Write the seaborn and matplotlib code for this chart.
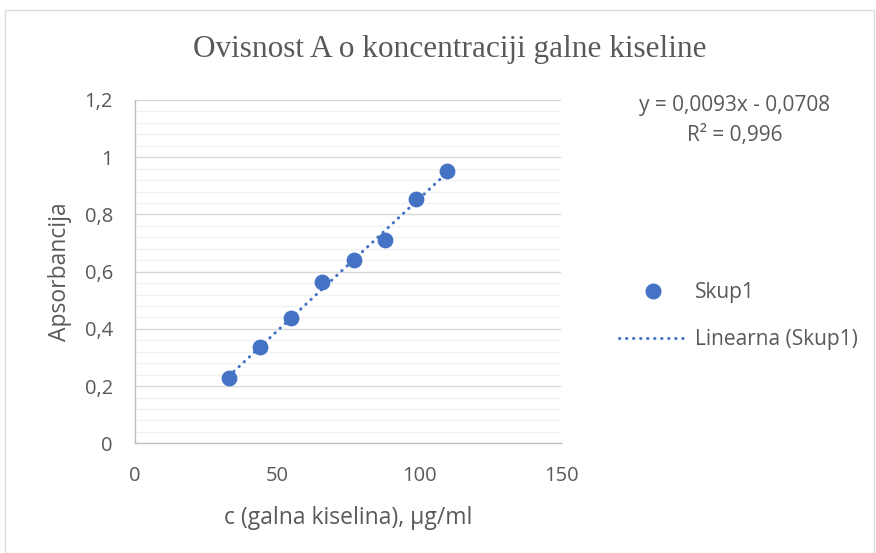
import matplotlib
matplotlib.use("Agg")
import matplotlib.pyplot as plt
from matplotlib.lines import Line2D
from matplotlib.patches import Rectangle
from matplotlib.ticker import MultipleLocator, FuncFormatter
import seaborn as sns
import pandas as pd

# data
concentration = [33, 44, 55, 66, 77, 88, 99, 110]
absorbance = [0.229, 0.338, 0.437, 0.563, 0.641, 0.711, 0.854, 0.953]
series_name = "Skup1"
trend_name = "Linearna (Skup1)"
equation = "y = 0,0093x - 0,0708"
r_squared = "R² = 0,996"

blue = "#4472C4"
text_grey = "#595959"

df = pd.DataFrame({"c": concentration, "A": absorbance})

sns.set_style("white")
plt.rcParams["font.family"] = ["Open Sans", "DejaVu Sans"]

fig = plt.figure(figsize=(8.76, 5.53), dpi=100)
ax = fig.add_axes([135 / 876, 1 - 443.3 / 553, 426 / 876, 343.3 / 553])

dots = (0, (0.1, 2.2))
sns.regplot(data=df, x="c", y="A", ax=ax, scatter=False, ci=None,
            line_kws=dict(color=blue, lw=2.2, linestyle=dots,
                          dash_capstyle="round"))
sns.scatterplot(data=df, x="c", y="A", ax=ax, color=blue, s=130,
                edgecolor=blue, linewidth=0, zorder=3)

ax.set_xlim(0, 150)
ax.set_ylim(0, 1.2)
ax.xaxis.set_major_locator(MultipleLocator(50))
ax.yaxis.set_major_locator(MultipleLocator(0.2))
ax.yaxis.set_minor_locator(MultipleLocator(0.04))
ax.yaxis.set_major_formatter(FuncFormatter(
    lambda v, p: ("%g" % round(v, 1)).replace(".", ",")))

ax.grid(True, which="major", axis="y", color="#d9d9d9", lw=1)
ax.grid(True, which="minor", axis="y", color="#f2f2f2", lw=1)
ax.set_axisbelow(True)
for side in ["top", "right"]:
    ax.spines[side].set_visible(False)
for side in ["left", "bottom"]:
    ax.spines[side].set_color("#bfbfbf")
    ax.spines[side].set_linewidth(1)
ax.tick_params(axis="both", which="major", direction="out", length=5,
               color="#bfbfbf", labelsize=14.5, labelcolor=text_grey, pad=11)
ax.tick_params(axis="y", which="minor", length=0)

ax.set_xlabel("c (galna kiselina), µg/ml", fontsize=16.5, color=text_grey,
              labelpad=15)
ax.set_ylabel("Apsorbancija", fontsize=16.5, color=text_grey, labelpad=9)

fig.text(450 / 876, 1 - 50 / 553, "Ovisnost A o koncentraciji galne kiseline",
         ha="center", va="center", fontsize=22.5, color=text_grey,
         family="Liberation Serif")

fig.text(735 / 876, 1 - 106 / 553, equation, ha="center", va="center",
         fontsize=15, color=text_grey)
fig.text(735 / 876, 1 - 136 / 553, r_squared, ha="center", va="center",
         fontsize=15, color=text_grey)

handles = [
    Line2D([], [], marker="o", color=blue, linestyle="none", markersize=10.5),
    Line2D([], [], color=blue, lw=2.2, linestyle=dots, dash_capstyle="round"),
]
fig.legend(handles, [series_name, trend_name], loc="center left",
           bbox_to_anchor=(619 / 876, 1 - 316 / 553), frameon=False,
           fontsize=15, labelcolor=text_grey, handlelength=3.3,
           handletextpad=0.35, labelspacing=1.25, borderpad=0,
           borderaxespad=0)

fig.add_artist(Rectangle((5 / 876, 0), 869 / 876, 1 - 10 / 553,
                         transform=fig.transFigure, fill=False,
                         edgecolor="#d9d9d9", lw=1))

fig.savefig("out.png", dpi=100)
